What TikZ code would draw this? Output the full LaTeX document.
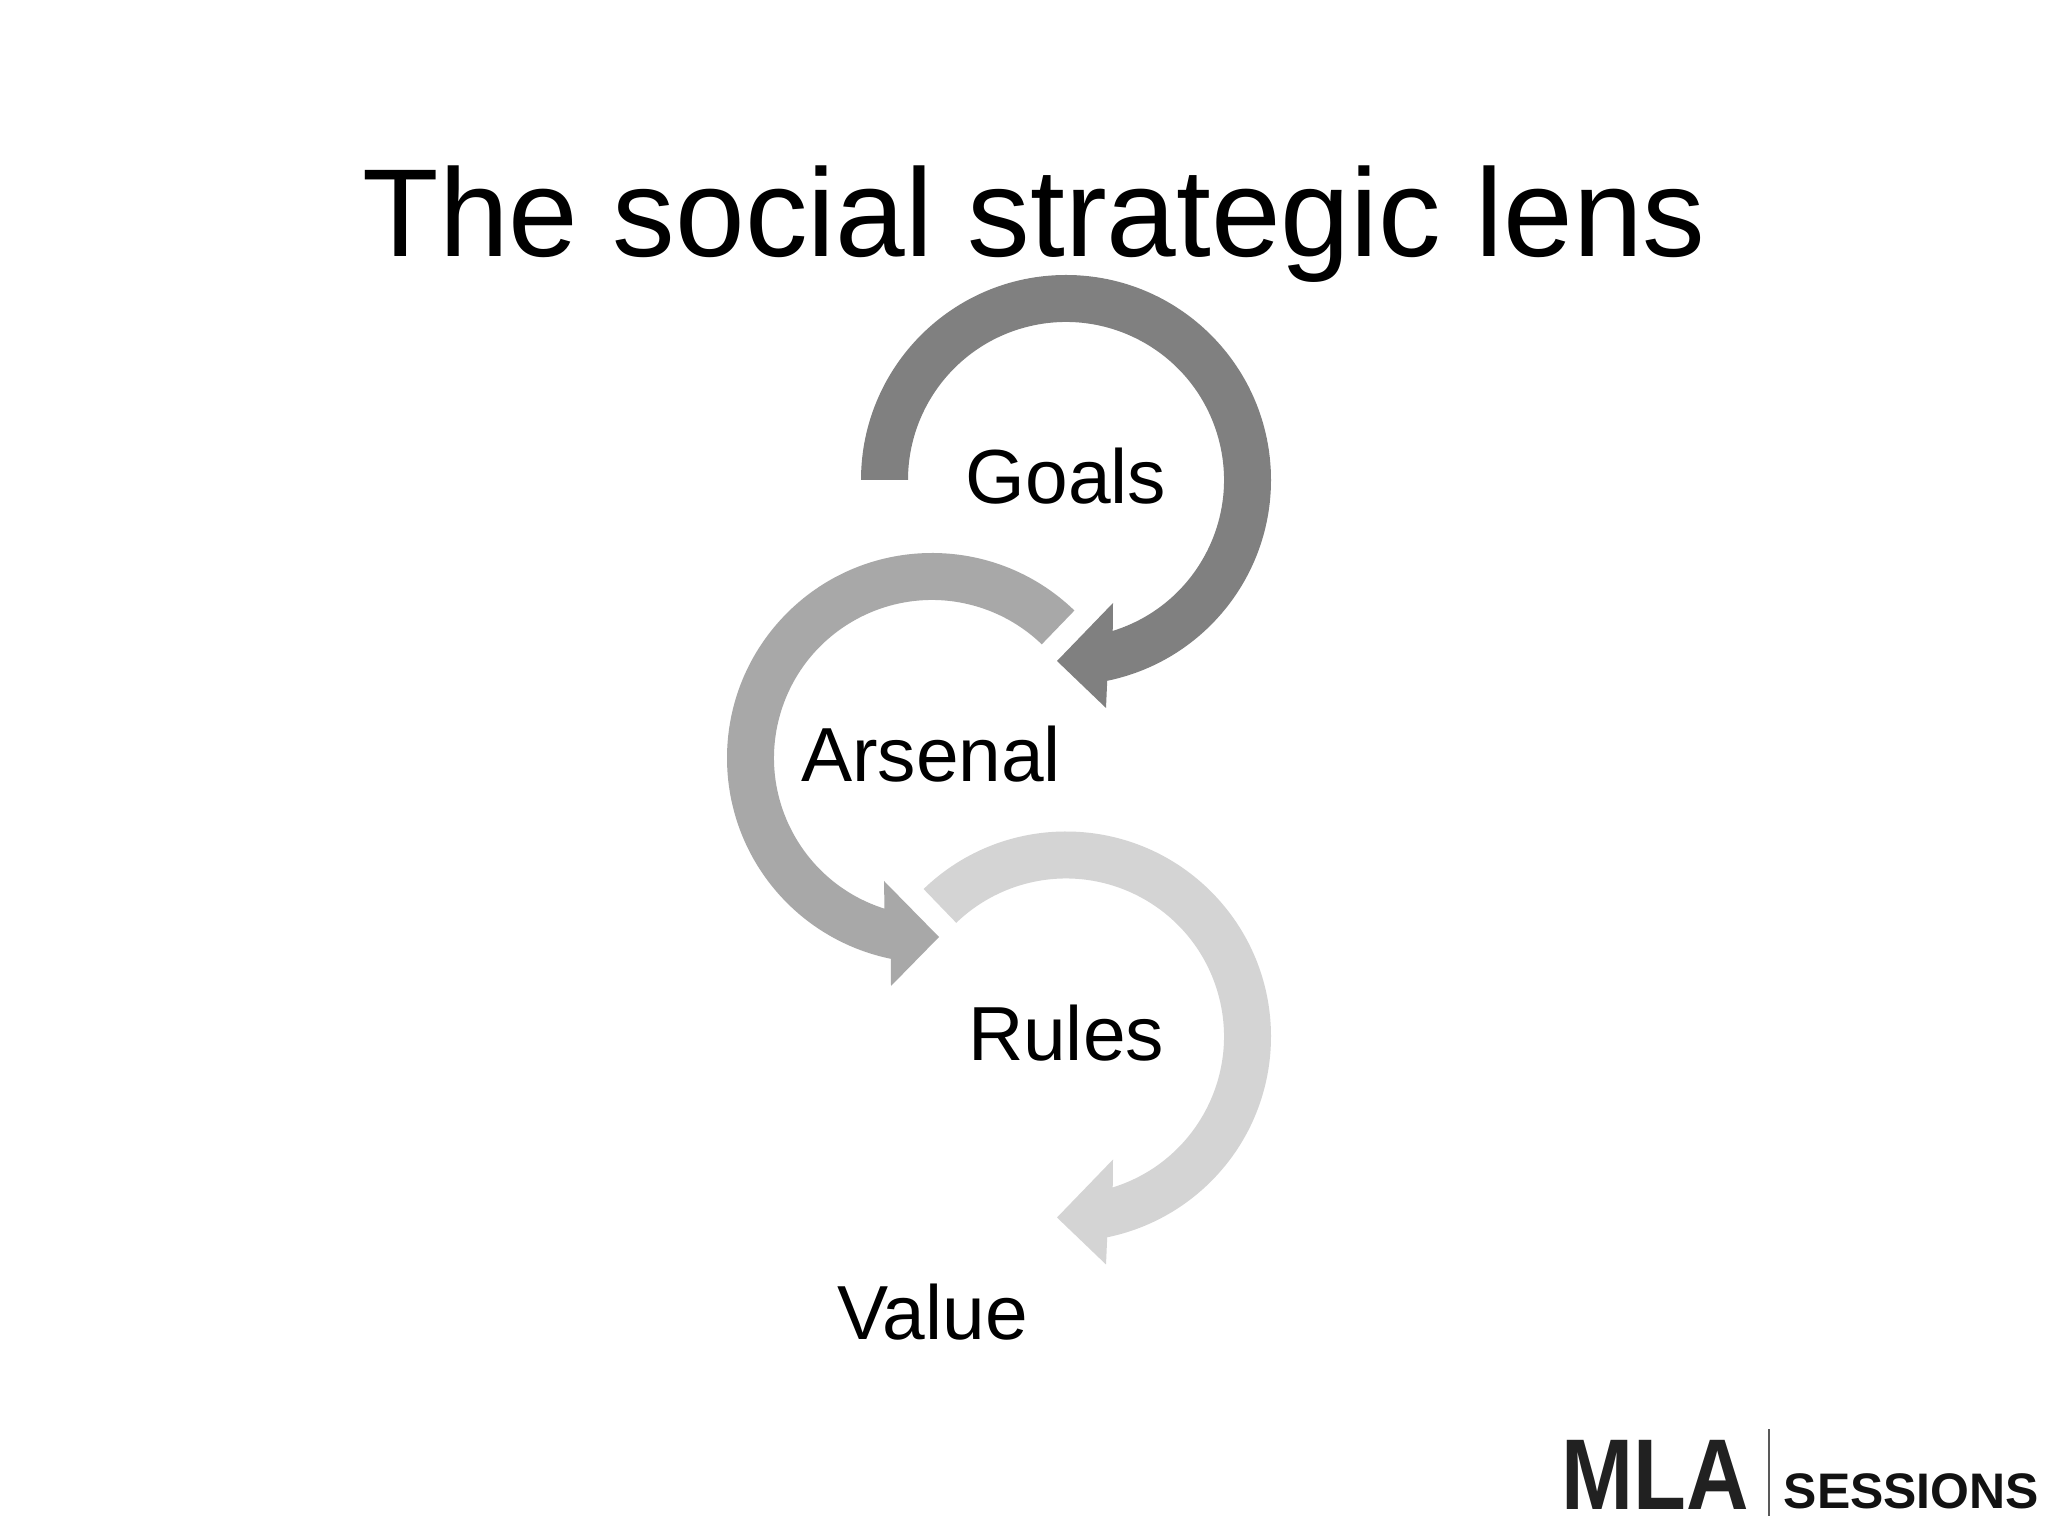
\documentclass[tikz,border=0pt]{standalone}
\usepackage{fontspec}
\setmainfont{Liberation Sans}
\usetikzlibrary{positioning}

\begin{document}
\begin{tikzpicture}
  [x=0.01cm, y=0.01cm,
   headline/.style={font=\fontsize{35.6}{40}\selectfont, anchor=base, inner sep=0pt},
   label/.style={font=\fontsize{21.8}{26}\selectfont, anchor=base, inner sep=0pt},
   logo/.style={font=\fontsize{28.6}{30}\selectfont\bfseries, anchor=base west, inner sep=0pt, text=black!87},
   sublogo/.style={font=\fontsize{14.2}{15}\selectfont\bfseries, anchor=base west, inner sep=0pt, text=black!93}]
  \useasboundingbox (0, 0) rectangle (2048, 1536);
  \fill [white] (0, 0) rectangle (2048, 1536);

  \node (title) at (1034, 1279) [headline] {The social strategic lens};

  \foreach \cy/\ang/\tone in {1056/180/50, 499.5/134/17}{
    \fill [black!\tone, shift={(1066, \cy)}]
      (\ang:205) arc [start angle=\ang, end angle=-78.4, radius=205]
      -- (40, -228) -- (-9, -181) -- (47, -123) -- (-72.8:158)
      arc [start angle=-72.8, end angle=\ang, radius=158] -- cycle;
  }
  \fill [black!34, shift={(932, 778)}]
    (46:205) arc [start angle=46, end angle=258.4, radius=205]
    -- (-41, -228) -- (7, -179) -- (-48, -123) -- (252.5:158)
    arc [start angle=252.5, end angle=46, radius=158] -- cycle;

  \node (goals) at (1066, 1032) [label] {Goals};
  \node (arsenal) at (931, 754) [label] {Arsenal};
  \node (rules) at (1066, 475.5) [label] {Rules};
  \node (value) at (932.5, 196) [label] {Value};

  \node (mla) at (1561, 26.5) [logo, xscale=0.86] {MLA};
  \node (sessions) at (1783, 27.5) [sublogo] {SESSIONS};
  \coordinate (barlow) at (1769, 20);
  \coordinate (barhigh) at (1769, 107);
  \draw [black!65, line width=0.45pt] (barlow) -- (barhigh);
\end{tikzpicture}
\end{document}
